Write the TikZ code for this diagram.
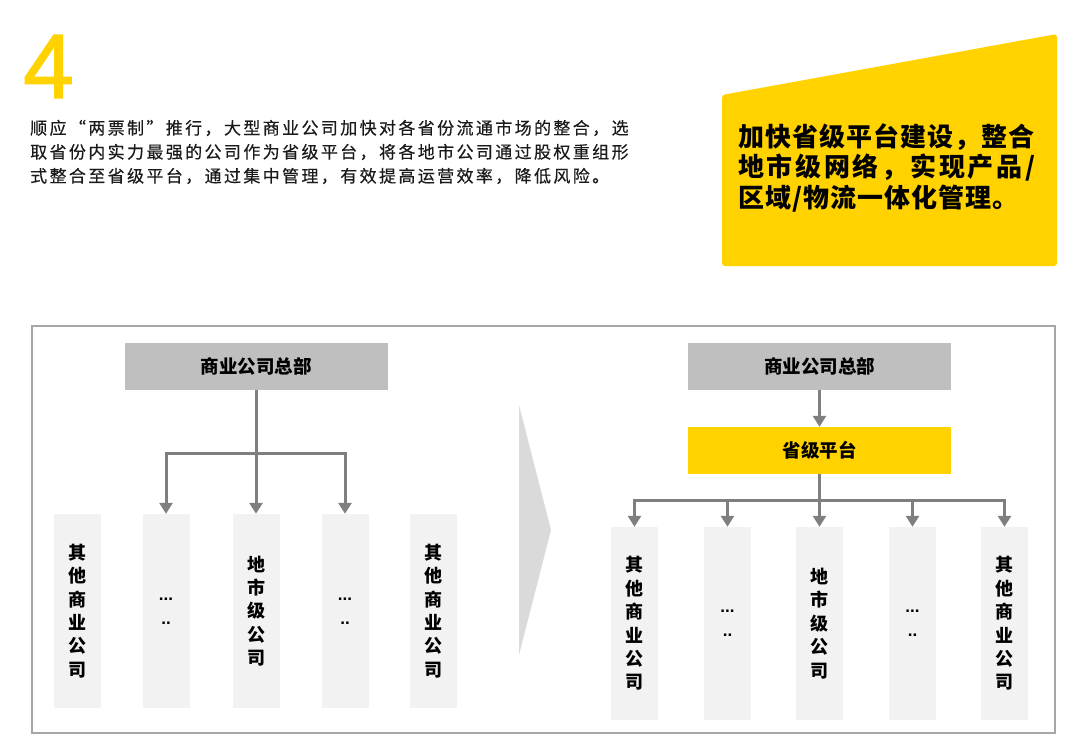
\documentclass[tikz,border=0pt]{standalone}
\usepackage{fontspec}
\setmainfont{Liberation Sans}
\newfontfamily\cjk{Noto Sans CJK SC}
\newfontfamily\cjkpara[LetterSpace=14,FakeBold=0.4]{Noto Sans CJK SC}
\newfontfamily\cjkbig[LetterSpace=4]{Noto Sans CJK SC}
\newfontfamily\dotfont{Liberation Sans}
\newfontfamily\numfont[FakeBold=1.7]{Liberation Sans}
\usetikzlibrary{arrows.meta}
\definecolor{eyyellow}{HTML}{FFD200}
\definecolor{hqgray}{HTML}{BFBFBF}
\definecolor{subgray}{HTML}{F2F2F2}
\definecolor{arrgray}{HTML}{7F7F7F}
\definecolor{bordergray}{HTML}{A6A6A6}
\definecolor{chevgray}{HTML}{DADADA}
\definecolor{txt}{HTML}{1A1A1A}
\tikzset{
  para/.style={anchor=west,inner sep=0pt,text=txt,font=\cjkpara\fontsize{17}{20}\selectfont},
  bigline/.style={anchor=west,inner sep=0pt,text=black,font=\cjkbig\bfseries\fontsize{26}{30}\selectfont},
  hqbox/.style={fill=hqgray,minimum width=263pt,minimum height=47pt,inner sep=0pt,font=\cjk\bfseries\fontsize{18.5}{22}\selectfont},
  platbox/.style={fill=eyyellow,minimum width=263pt,minimum height=47pt,inner sep=0pt,font=\cjk\bfseries\fontsize{18.5}{22}\selectfont},
  subbox/.style={fill=subgray,minimum width=47pt,minimum height=194pt,inner sep=0pt,align=center,font=\cjk\bfseries\fontsize{18}{23.4}\selectfont},
  dotbox/.style={subbox,font=\dotfont\bfseries\fontsize{17}{24}\selectfont},
  conn/.style={draw=arrgray,line width=3pt},
  arr/.style={conn,-{Triangle[width=13pt,length=11pt]}},
}
\begin{document}
\begin{tikzpicture}[x=1pt,y=-1pt]
\useasboundingbox (0,0) rectangle (1080,755);
% big number
\node[anchor=south west,inner sep=0pt,text=eyyellow,font=\numfont\fontsize{91}{91}\selectfont] (num) at (23,98) {4};
% paragraph
\node[para] (p1) at (30,128) {顺应“两票制”推行，大型商业公司加快对各省份流通市场的整合，选};
\node[para] (p2) at (30,152) {取省份内实力最强的公司作为省级平台，将各地市公司通过股权重组形};
\node[para] (p3) at (30,176) {式整合至省级平台，通过集中管理，有效提高运营效率，降低风险。};
% yellow callout
\fill[eyyellow,rounded corners=3pt] (722,95) -- (1057,34) -- (1057,266) -- (722,266) -- cycle;
\node[bigline] (y1) at (738,137) {加快省级平台建设，整合};
\node[bigline] (y2) at (738,168) {\makebox[297pt][s]{地\hfill 市\hfill 级\hfill 网\hfill 络\hfill ，\hfill 实\hfill 现\hfill 产\hfill 品\hfill /}};
\node[bigline] (y3) at (738,199) {区域/物流一体化管理。};
% panel
\draw[bordergray,line width=1.2pt] (32,326) rectangle (1055,733);
% chevron
\fill[chevgray] (519,405) -- (551,530) -- (519,655) -- cycle;
% left diagram
\node[hqbox] (hqL) at (256,366.5) {商业公司总部};
\node[subbox] (l1) at (77,611) {其\\他\\商\\业\\公\\司};
\node[dotbox] (l2) at (166,611) {...\\..};
\node[subbox] (l3) at (256,611) {地\\市\\级\\公\\司};
\node[dotbox] (l4) at (345,611) {...\\..};
\node[subbox] (l5) at (433.5,611) {其\\他\\商\\业\\公\\司};
\coordinate (jL) at (256,453);
\draw[conn] (hqL.south) -- (jL);
\draw[arr] (jL) -| (l2.north);
\draw[arr] (jL) -- (l3.north);
\draw[arr] (jL) -| (l4.north);
% right diagram
\node[hqbox] (hqR) at (819.5,366.5) {商业公司总部};
\node[platbox] (plat) at (819.5,450.5) {省级平台};
\node[subbox,minimum height=193pt] (r1) at (634.5,623.5) {其\\他\\商\\业\\公\\司};
\node[dotbox,minimum height=193pt] (r2) at (727.5,623.5) {...\\..};
\node[subbox,minimum height=193pt] (r3) at (819.5,623.5) {地\\市\\级\\公\\司};
\node[dotbox,minimum height=193pt] (r4) at (912.5,623.5) {...\\..};
\node[subbox,minimum height=193pt] (r5) at (1004.5,623.5) {其\\他\\商\\业\\公\\司};
\draw[arr] (hqR.south) -- (plat.north);
\coordinate (jR) at (819.5,500);
\draw[conn] (plat.south) -- (jR);
\draw[arr] (jR) -| (r1.north);
\draw[arr] (jR) -| (r2.north);
\draw[arr] (jR) -- (r3.north);
\draw[arr] (jR) -| (r4.north);
\draw[arr] (jR) -| (r5.north);
\end{tikzpicture}
\end{document}
